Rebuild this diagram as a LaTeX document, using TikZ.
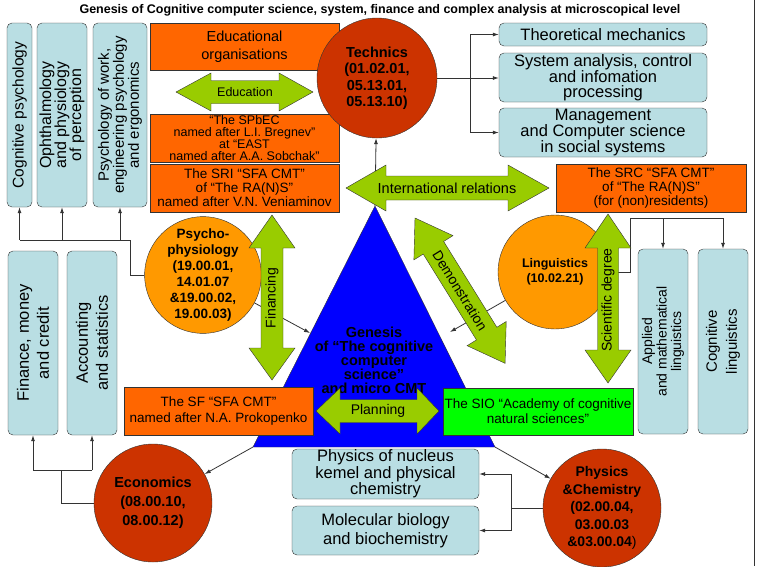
\documentclass[tikz,border=0pt]{standalone}
\usepackage{fontspec}
\setmainfont{Liberation Sans}
\usetikzlibrary{arrows.meta}

\definecolor{boxblue}{RGB}{185,222,227}
\definecolor{boxorange}{RGB}{255,102,0}
\definecolor{circred}{RGB}{204,51,0}
\definecolor{circorange}{RGB}{255,153,0}
\definecolor{arrowgreen}{RGB}{153,204,0}
\definecolor{siogreen}{RGB}{0,255,0}
\definecolor{trblue}{RGB}{0,0,255}
\definecolor{edge}{RGB}{51,51,51}

\begin{document}
\begin{tikzpicture}[x=1pt,y=-1pt,
  bluebox/.style={draw=edge,fill=boxblue,rounded corners=5pt,inner sep=0pt,align=center},
  orangebox/.style={draw=edge,fill=boxorange,inner sep=0pt,align=center},
  circ/.style={circle,draw=edge,inner sep=0pt,align=center},
  greenarrow/.style={draw=edge,fill=arrowgreen,line join=miter},
  conn/.style={draw=edge,line width=0.8pt},
  arr/.style={-{Latex[length=6pt,width=4pt]}}]
  \useasboundingbox (0,0) rectangle (758,566);
  \draw[edge,line width=0.8pt] (754,0) -- (754,566);
  \node[font=\bfseries\fontsize{12.5}{14}\selectfont] (title) at (380,10) {Genesis of Cognitive computer science, system, finance and complex analysis at microscopical level};
  % triangle
  \coordinate (apex) at (375,206);
  \coordinate (tl) at (253,447);
  \coordinate (tr) at (495,447);
  \coordinate (tleft) at (310,333);
  \coordinate (tright) at (450,332);
  \draw[draw=edge,fill=trblue] (apex) -- (tr) -- (tl) -- cycle;
  \node[font=\bfseries\fontsize{14.5}{14}\selectfont,align=center] (gen) at (374,360) {Genesis\\of “The cognitive\\computer\\science”\\and micro CMT};
  % boxes
  \node[bluebox,rotate=90,minimum width=184,minimum height=25,font=\fontsize{15.5}{15}\selectfont] (cogpsy) at (19.5,115) {Cognitive psychology};
  \node[bluebox,rotate=90,minimum width=184,minimum height=50,font=\fontsize{16}{15}\selectfont] (ophth) at (62,115) {Ophthalmology\\and physiology\\of perception};
  \node[bluebox,rotate=90,minimum width=184,minimum height=54,font=\fontsize{15}{15}\selectfont] (psywork) at (120,115) {Psychology of work,\\engineering psychology\\and ergonomics};
  \node[bluebox,rotate=90,minimum width=184,minimum height=50,font=\fontsize{16.5}{20}\selectfont] (finance) at (33,343) {Finance, money\\and credit};
  \node[bluebox,rotate=90,minimum width=184,minimum height=50,font=\fontsize{16.5}{20}\selectfont] (account) at (92,343) {Accounting\\and statistics};
  \node[bluebox,rotate=90,minimum width=185,minimum height=50,font=\fontsize{14}{14.5}\selectfont] (applied) at (663,341.5) {Applied\\and mathematical\\linguistics};
  \node[bluebox,rotate=90,minimum width=185,minimum height=50,font=\fontsize{15}{20}\selectfont] (coglin) at (723,341.5) {Cognitive\\linguistics};
  \node[bluebox,minimum width=208,minimum height=23,font=\fontsize{16.5}{14}\selectfont] (theomech) at (603,34.5) {Theoretical mechanics};
  \node[bluebox,minimum width=208,minimum height=49,font=\fontsize{16.5}{14.5}\selectfont] (sysan) at (603,77.5) {System analysis, control\\and infomation\\processing};
  \node[bluebox,minimum width=208,minimum height=49,font=\fontsize{16.5}{14.5}\selectfont] (manage) at (603,132.5) {Management\\and Computer science\\in social systems};
  \node[bluebox,minimum width=187,minimum height=50,font=\fontsize{16.5}{15}\selectfont] (nucleus) at (385.5,474) {Physics of nucleus\\kemel and physical\\chemistry};
  \node[bluebox,minimum width=187,minimum height=49,font=\fontsize{16.5}{19}\selectfont] (molbio) at (385.5,530.5) {Molecular biology\\and biochemistry};
  \node[orangebox,minimum width=189,minimum height=47,font=\fontsize{14.5}{18}\selectfont] (eduorg) at (244.5,46.5) {Educational\\organisations};
  \node[orangebox,minimum width=189,minimum height=48,font=\fontsize{12.5}{12}\selectfont] (spbec) at (244.5,138) {“The SPbEC\\named after L.I. Bregnev”\\at “EAST\\named after A.A. Sobchak”};
  \node[orangebox,minimum width=189,minimum height=48,font=\fontsize{13.5}{14}\selectfont] (sri) at (244.5,188) {The SRI “SFA CMT”\\of “The RA(N)S”\\named after V.N. Veniaminov};
  \node[orangebox,minimum width=190,minimum height=48,font=\fontsize{13.5}{14}\selectfont] (src) at (651,188) {The SRC “SFA CMT”\\of “The RA(N)S”\\(for (non)residents)};
  \node[orangebox,minimum width=189,minimum height=48,font=\fontsize{13.5}{16}\selectfont] (sf) at (218.5,411) {The SF “SFA CMT”\\named after N.A. Prokopenko};
  \node[orangebox,fill=siogreen,minimum width=190,minimum height=47,font=\fontsize{13.5}{15}\selectfont] (sio) at (538,411.5) {The SIO “Academy of cognitive\\natural sciences”};
  % circles
  \node[circ,fill=circred,minimum size=120,font=\bfseries\fontsize{14.5}{16.5}\selectfont] (tech) at (377,78) {Technics\\(01.02.01,\\05.13.01,\\05.13.10)};
  \node[circ,fill=circorange,minimum size=114,font=\bfseries\fontsize{13.5}{16}\selectfont] (psycho) at (203,275) {Psycho-\\physiology\\(19.00.01,\\14.01.07\\\&19.00.02,\\19.00.03)};
  \node[circ,fill=circorange,minimum size=114,font=\bfseries\fontsize{12.5}{15}\selectfont] (ling) at (555,272) {Linguistics\\(10.02.21)};
  \node[circ,fill=circred,minimum size=118,font=\bfseries\fontsize{14.5}{19}\selectfont] (econ) at (153,503) {Economics\\(08.00.10,\\08.00.12)};
  \node[circ,fill=circred,minimum size=118,font=\bfseries\fontsize{14}{17.5}\selectfont] (phys) at (602,508) {Physics\\\&Chemistry\\(02.00.04,\\03.00.03\\\&03.00.04\textmd{)}};
  % connectors
  \coordinate (tbus) at (470,78);
  \draw[conn] (tech.east) -- (tbus);
  \draw[conn,arr] (tbus) |- (theomech.west);
  \draw[conn,arr] (tbus) -- (tbus -| sysan.west);
  \draw[conn,arr] (tbus) |- (manage.west);
  \coordinate (pbus) at (130,240);
  \draw[conn] (psycho.west) -| (pbus) -- (pbus -| cogpsy.west);
  \draw[conn,arr] (cogpsy.west |- pbus) -- (cogpsy.west);
  \draw[conn,arr] (ophth.west |- pbus) -- (ophth.west);
  \draw[conn,arr] (psywork.west |- pbus) -- (psywork.west);
  \coordinate (ebus) at (61,470);
  \draw[conn] (econ.west) -| (ebus);
  \draw[conn] (finance.west |- ebus) -- (account.west |- ebus);
  \draw[conn,arr] (finance.west |- ebus) -- (finance.west);
  \draw[conn,arr] (account.west |- ebus) -- (account.west);
  \coordinate (fbus) at (511,508);
  \draw[conn] (phys.west) -- (fbus);
  \draw[conn,arr] (fbus) |- (nucleus.east);
  \draw[conn,arr] (fbus) |- (molbio.east);
  \coordinate (lbus) at (630,218);
  \draw[conn] (ling.east) -| (lbus) -- (lbus -| coglin.east);
  \draw[conn,arr] (applied.east |- lbus) -- (applied.east);
  \draw[conn,arr] (coglin.east |- lbus) -- (coglin.east);
  \draw[conn,arr] (apex) -- (tech);
  \draw[conn,arr] (psycho) -- (tleft);
  \draw[conn,arr] (ling) -- (tright);
  \draw[conn,arr] (tl) -- (econ);
  \draw[conn,arr] (tr) -- (phys);
  % green arrows
  \draw[greenarrow] (176,92) -- (211,73) -- (211,80.5) -- (279,80.5) -- (279,73) -- (313,92) -- (279,111) -- (279,103.5) -- (211,103.5) -- (211,111) -- cycle;
  \node[font=\fontsize{12.5}{14}\selectfont] (educ) at (245,92) {Education};
  \draw[greenarrow] (346,188) -- (386,165) -- (386,176) -- (508,176) -- (508,165) -- (549,188) -- (508,211) -- (508,200) -- (386,200) -- (386,211) -- cycle;
  \node[font=\fontsize{14.5}{16}\selectfont] (intl) at (447,188) {International relations};
  \draw[greenarrow] (316,411) -- (340,388) -- (340,399.5) -- (417,399.5) -- (417,388) -- (439,411) -- (417,434) -- (417,422.5) -- (340,422.5) -- (340,434) -- cycle;
  \node[font=\fontsize{14}{16}\selectfont] (plan) at (378,411) {Planning};
  \draw[greenarrow] (272,215) -- (295,248) -- (283,248) -- (283,348) -- (295,348) -- (272,380) -- (249,348) -- (261,348) -- (261,248) -- (249,248) -- cycle;
  \node[rotate=90,font=\fontsize{14}{16}\selectfont] (fin) at (272,298) {Financing};
  \draw[greenarrow] (608,214) -- (631,248) -- (618.5,248) -- (618.5,350) -- (631,350) -- (608,383) -- (585,350) -- (597.5,350) -- (597.5,248) -- (585,248) -- cycle;
  \node[rotate=90,font=\fontsize{14}{16}\selectfont] (sci) at (608,300) {Scientific degree};
  \begin{scope}[shift={(415,218)},rotate=-58.2]
    \draw[greenarrow] (0,0) -- (35,-23) -- (35,-12) -- (136,-12) -- (136,-23) -- (171,0) -- (136,23) -- (136,12) -- (35,12) -- (35,23) -- cycle;
    \node[rotate=-58.2,font=\fontsize{14}{16}\selectfont] (demo) at (85.5,0) {Demonstration};
  \end{scope}
\end{tikzpicture}
\end{document}
